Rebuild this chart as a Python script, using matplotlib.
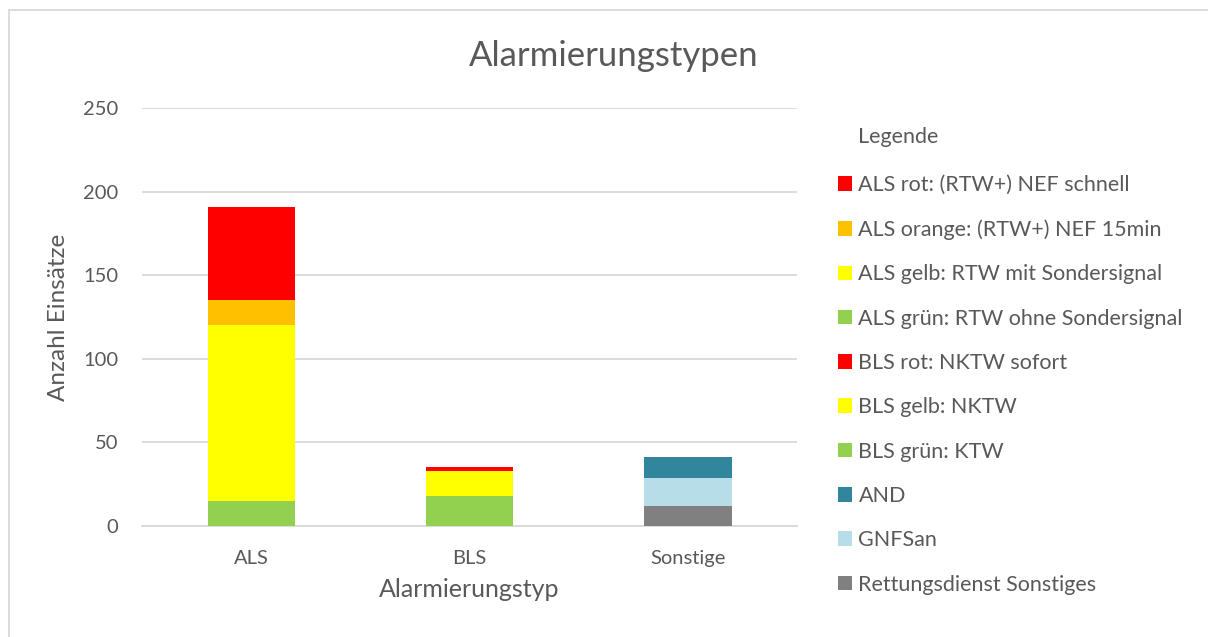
import matplotlib
matplotlib.use("Agg")
import matplotlib.pyplot as plt
from matplotlib.patches import Rectangle

# ---- data ----
categories = ["ALS", "BLS", "Sonstige"]
# stacking order (bottom -> top)
series_names = [
    "Rettungsdienst Sonstiges", "GNFSan", "AND",
    "BLS grün: KTW", "BLS gelb: NKTW", "BLS rot: NKTW sofort",
    "ALS grün: RTW ohne Sondersignal", "ALS gelb: RTW mit Sondersignal",
    "ALS orange: (RTW+) NEF 15min", "ALS rot: (RTW+) NEF schnell",
]
rd_sonstiges = [0, 0, 12]
gnfsan = [0, 0, 17]
and_ = [0, 0, 12]
bls_gruen = [0, 18, 0]
bls_gelb = [0, 15, 0]
bls_rot = [0, 2, 0]
als_gruen = [15, 0, 0]
als_gelb = [105, 0, 0]
als_orange = [15, 0, 0]
als_rot = [56, 0, 0]
series_values = [rd_sonstiges, gnfsan, and_, bls_gruen, bls_gelb, bls_rot,
                 als_gruen, als_gelb, als_orange, als_rot]
series_colors = ["#808080", "#B7DEE8", "#31859C", "#92D050", "#FFFF00", "#FF0000",
                 "#92D050", "#FFFF00", "#FFC000", "#FF0000"]
yticks = [0, 50, 100, 150, 200, 250]

TXT = "#595959"
plt.rcParams["font.family"] = ["Lato", "DejaVu Sans"]

W, H = 1208, 637
fig = plt.figure(figsize=(W / 100, H / 100), dpi=100)
ax = fig.add_axes([142 / W, 1 - 526 / H, (797 - 142) / W, (526 - 108) / H])

x = list(range(len(categories)))
bottom = [0] * len(categories)
handles = []
for name, vals, col in zip(series_names, series_values, series_colors):
    b = ax.bar(x, vals, bottom=bottom, width=0.4, color=col, label=name, zorder=3)
    handles.append(b)
    bottom = [bo + v for bo, v in zip(bottom, vals)]

ax.set_xlim(-0.5, 2.5)
ax.set_ylim(0, 250)
ax.set_yticks(yticks)
ax.set_yticklabels([str(t) for t in yticks])
ax.set_xticks(x)
ax.set_xticklabels(categories)
ax.grid(axis="y", color="#D9D9D9", linewidth=1.3, zorder=0)
ax.set_axisbelow(True)
for s in ["top", "right", "left"]:
    ax.spines[s].set_visible(False)
ax.spines["bottom"].set_color("#D9D9D9")
ax.spines["bottom"].set_linewidth(1.3)
ax.tick_params(axis="both", length=0, labelsize=14.5, colors=TXT)
ax.tick_params(axis="y", pad=17)
ax.tick_params(axis="x", pad=17)

ax.set_xlabel("Alarmierungstyp", fontsize=18, color=TXT, labelpad=8)
ax.set_ylabel("Anzahl Einsätze", fontsize=17.5, color=TXT, labelpad=10)

fig.text(614 / W, 1 - 56 / H, "Alarmierungstypen", fontsize=25, color=TXT,
         ha="center", va="center")

# legend (reverse order as in reference)
fig.text(858 / W, 1 - 137 / H, "Legende", fontsize=15.5, color=TXT, ha="left", va="center")
leg = fig.legend(handles[::-1], series_names[::-1], loc="upper left",
                 bbox_to_anchor=(838 / W, 1 - 175 / H), frameon=False,
                 fontsize=15.5, handlelength=0.65, handleheight=0.65,
                 handletextpad=0.3, labelspacing=1.13, borderaxespad=0, borderpad=0)
for t in leg.get_texts():
    t.set_color(TXT)

# outer chart border
fig.patches.append(Rectangle((9 / W, -0.1), 1.2, 1 - 10 / H + 0.1,
                             transform=fig.transFigure, fill=False,
                             edgecolor="#D9D9D9", linewidth=1.3))

fig.savefig("out.png", dpi=100, facecolor="white")
